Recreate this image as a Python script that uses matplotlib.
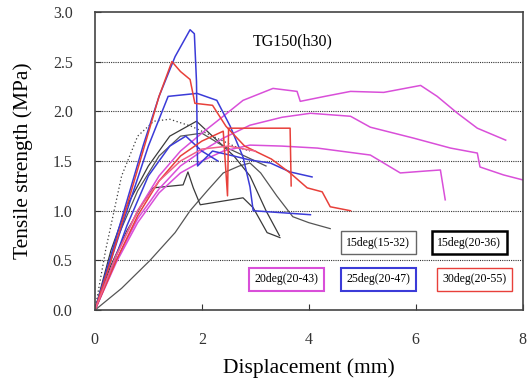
import matplotlib.pyplot as plt

plt.rcParams['font.family'] = ['Liberation Serif', 'DejaVu Serif']

# 15deg (black)
b1_x = [0, 0.5, 1.03, 1.5, 1.78, 2.1, 2.4, 2.7, 2.9, 3.1, 3.4, 3.7, 4.0, 4.4]
b1_y = [0, 0.22, 0.5, 0.78, 1.0, 1.2, 1.38, 1.45, 1.48, 1.38, 1.15, 0.94, 0.88, 0.82]
b2_x = [0, 0.3, 0.6, 0.9, 1.09, 1.65, 1.74, 1.84, 1.97, 2.77, 2.96, 3.22, 3.46]
b2_y = [0, 0.45, 0.8, 1.08, 1.23, 1.26, 1.39, 1.23, 1.06, 1.13, 1.03, 0.78, 0.73]
b3_x = [0, 0.3, 0.6, 1.0, 1.4, 1.9, 2.2, 2.6, 2.9, 3.2, 3.45]
b3_y = [0, 0.6, 1.05, 1.45, 1.75, 1.9, 1.75, 1.55, 1.35, 1.0, 0.75]
b4_x = [0, 0.2, 0.5, 0.8, 1.1, 1.4, 1.8, 2.2, 2.6, 2.9]
b4_y = [0, 0.6, 1.35, 1.75, 1.9, 1.92, 1.85, 1.75, 1.65, 1.6]
b5_x = [0, 0.4, 0.8, 1.2, 1.6, 2.0, 2.4, 2.8, 3.2]
b5_y = [0, 0.7, 1.2, 1.55, 1.75, 1.78, 1.65, 1.55, 1.45]

# 20deg (magenta)
m1_x = [0, 0.4, 0.8, 1.2, 1.6, 2.0, 2.4, 2.77, 3.33, 3.78, 3.84, 4.3, 4.78, 5.4, 6.09, 6.4, 6.78, 7.15, 7.68]
m1_y = [0, 0.55, 1.0, 1.35, 1.6, 1.78, 1.95, 2.11, 2.23, 2.2, 2.1, 2.15, 2.2, 2.19, 2.26, 2.15, 1.98, 1.83, 1.71]
m2_x = [0, 0.4, 0.8, 1.2, 1.6, 2.0, 2.4, 2.9, 3.5, 4.03, 4.78, 5.15, 5.96, 6.65, 7.15, 7.2, 7.64, 8.0]
m2_y = [0, 0.5, 0.92, 1.22, 1.45, 1.6, 1.73, 1.86, 1.94, 1.98, 1.95, 1.84, 1.73, 1.63, 1.58, 1.44, 1.36, 1.31]
m3_x = [0, 0.4, 0.8, 1.2, 1.6, 2.0, 2.4, 2.9, 3.5, 4.16, 5.15, 5.71, 6.2, 6.46, 6.55]
m3_y = [0, 0.48, 0.88, 1.18, 1.38, 1.5, 1.6, 1.66, 1.65, 1.63, 1.56, 1.38, 1.4, 1.41, 1.11]

# 25deg (blue)
u1_x = [0, 0.3, 0.6, 0.9, 1.2, 1.5, 1.78, 1.86, 1.9, 1.92, 2.2, 2.6, 2.9, 3.28, 3.65, 4.06]
u1_y = [0, 0.55, 1.1, 1.65, 2.15, 2.55, 2.82, 2.78, 2.3, 1.45, 1.6, 1.55, 1.51, 1.48, 1.39, 1.34]
u2_x = [0, 0.3, 0.6, 1.0, 1.37, 1.91, 2.28, 2.53, 2.77, 2.9, 2.96, 3.5, 4.03]
u2_y = [0, 0.5, 1.0, 1.65, 2.15, 2.18, 2.11, 1.85, 1.54, 1.24, 1.0, 0.98, 0.96]
u3_x = [0, 0.3, 0.6, 1.0, 1.4, 1.7, 2.0, 2.3]
u3_y = [0, 0.4, 0.85, 1.35, 1.65, 1.75, 1.6, 1.5]

# 30deg (red)
r1_x = [0, 0.3, 0.6, 0.9, 1.2, 1.44, 1.6, 1.78, 1.87, 2.2, 2.45, 2.8, 3.3, 3.65, 3.97, 4.25, 4.4, 4.78]
r1_y = [0, 0.5, 1.05, 1.6, 2.15, 2.5, 2.4, 2.32, 2.08, 2.06, 1.85, 1.65, 1.52, 1.38, 1.23, 1.19, 1.04, 1.0]
r2_x = [0, 0.4, 0.8, 1.2, 1.6, 2.0, 2.4, 2.48, 2.5, 3.65, 3.67]
r2_y = [0, 0.5, 0.95, 1.3, 1.55, 1.7, 1.8, 1.15, 1.83, 1.83, 1.25]
r3_x = [0, 0.4, 0.8, 1.2, 1.6, 2.0, 2.5, 3.0]
r3_y = [0, 0.55, 1.0, 1.3, 1.5, 1.62, 1.65, 1.6]

labels = ['15deg(15-32)', '15deg(20-36)', '20deg(20-43)', '25deg(20-47)', '30deg(20-55)']

fig = plt.figure(figsize=(5.27, 3.82), dpi=100)
ax = fig.add_axes([0.180, 0.188, 0.812, 0.781])

for y in [0.5, 1.0, 1.5, 2.0, 2.5]:
    ax.axhline(y, color='#333333', linestyle=(0, (1, 1)), linewidth=0.8, zorder=1)

black = '#3a3a3a'
ax.plot(b1_x, b1_y, color='#555555', lw=0.9)
ax.plot(b2_x, b2_y, color=black, lw=0.9)
ax.plot(b3_x, b3_y, color=black, lw=0.9)
ax.plot(b4_x, b4_y, color=black, lw=0.9, linestyle=(0, (1, 2)))
ax.plot(b5_x, b5_y, color='#555555', lw=0.9)

mag = '#d94fd9'
ax.plot(m1_x, m1_y, color=mag, lw=1.1)
ax.plot(m2_x, m2_y, color=mag, lw=1.1)
ax.plot(m3_x, m3_y, color=mag, lw=1.1)

blue = '#3b3bd8'
ax.plot(u1_x, u1_y, color=blue, lw=1.1)
ax.plot(u2_x, u2_y, color=blue, lw=1.1)
ax.plot(u3_x, u3_y, color=blue, lw=1.1)

red = '#e8403a'
ax.plot(r1_x, r1_y, color=red, lw=1.1)
ax.plot(r2_x, r2_y, color=red, lw=1.1)
ax.plot(r3_x, r3_y, color='#f0608a', lw=1.1)

ax.text(3.7, 2.7, 'TG150(h30)', ha='center', va='center', fontsize=11.5)

# legend boxes
box_pos = [(5.3, 0.68), (7.0, 0.68), (3.58, 0.31), (5.3, 0.31), (7.1, 0.31)]
box_col = ['#666666', 'black', mag, blue, red]
box_lw = [1.0, 1.8, 1.5, 1.5, 1.0]
for lab, (bx, by), c, w in zip(labels, box_pos, box_col, box_lw):
    ax.text(bx, by, lab, ha='center', va='center', fontsize=8.5,
            bbox=dict(boxstyle='square,pad=0.45', fc='white', ec=c, lw=w))

ax.set_xlim(0, 8)
ax.set_ylim(0, 3.0)
ax.set_xticks([0, 2, 4, 6, 8])
ax.set_yticks([0, 0.5, 1.0, 1.5, 2.0, 2.5, 3.0])
ax.set_yticklabels(['0.0', '0.5', '1.0', '1.5', '2.0', '2.5', '3.0'])
ax.tick_params(direction='in', length=4, labelsize=11.5, colors='#333333', pad=16)
for s in ax.spines.values():
    s.set_color('#444444')
    s.set_linewidth(1.2)
ax.set_xlabel('Displacement (mm)', fontsize=15.5, labelpad=7)
ax.set_ylabel('Tensile strength (MPa)', fontsize=15.5, labelpad=14)

plt.savefig('out.png')
